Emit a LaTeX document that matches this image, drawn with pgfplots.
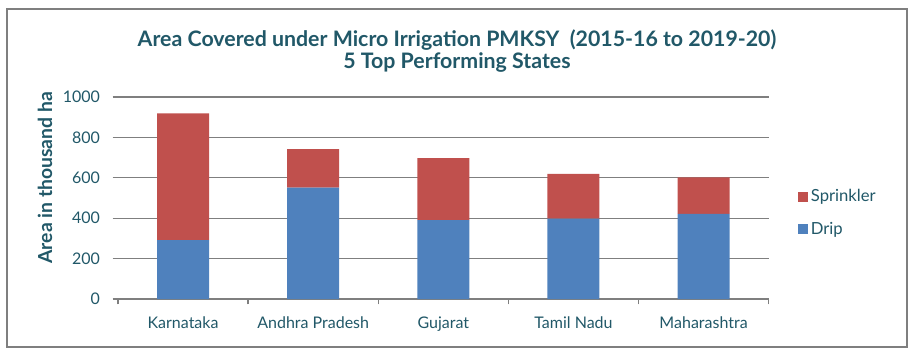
\documentclass[border=0pt]{standalone}
\usepackage{pgfplots}
\pgfplotsset{compat=1.18}
\usepackage{fontspec}
\setmainfont{Lato}
\definecolor{txt}{HTML}{215868}
\definecolor{dripc}{HTML}{4F81BD}
\definecolor{sprc}{HTML}{C0504D}
\definecolor{gridc}{HTML}{7F7F7F}
\begin{document}
\begin{tikzpicture}
\useasboundingbox (-88.5pt,-40.5pt) rectangle (595.5pt,224.25pt);
\draw[gridc, line width=1.1pt] (-83.25pt,-36pt) rectangle (591.75pt,217.5pt);
\begin{axis}[
  at={(0pt,0pt)}, anchor=south west,
  scale only axis, width=488pt, height=151.5pt,
  ybar stacked, bar width=39pt,
  xmin=-0.5, xmax=4.5, ymin=0, ymax=1000,
  xtick={0,1,2,3,4},
  xticklabels={Karnataka, Andhra Pradesh, Gujarat, Tamil Nadu, Maharashtra},
  minor xtick={-0.5,0.5,1.5,2.5,3.5,4.5},
  ytick={0,200,400,600,800,1000},
  axis x line*=bottom, axis y line*=left,
  y axis line style={draw=none},
  x axis line style={gridc, line width=1pt, -},
  tick align=outside,
  major x tick style={draw=none},
  minor x tick style={gridc, line width=1pt},
  minor tick length=4pt,
  major tick length=4pt,
  y tick style={gridc, line width=1pt},
  ymajorgrids, grid style={gridc, line width=1pt},
  ticklabel style={font=\fontsize{12}{14}\selectfont, text=txt},
  xticklabel style={yshift=-6pt},
  yticklabel style={xshift=-6pt},
  /pgf/number format/assume math mode=true,
  /pgf/number format/1000 sep={},
  legend style={at={(1.045,0.426)}, anchor=west, draw=none, fill=none,
    font=\fontsize{12.5}{14}\selectfont, text=txt, row sep=10pt,
    inner sep=0pt},
  legend cell align=left,
  reverse legend,
  legend image code/.code={\fill[#1] (0pt,-3.75pt) rectangle (7.5pt,3.75pt);},
  clip=false,
]
\addplot[fill=dripc, draw=none] coordinates {(0,292) (1,551) (2,391) (3,398) (4,421)};
\addlegendentry{Drip}
\addplot[fill=sprc, draw=none] coordinates {(0,627) (1,191) (2,307) (3,221) (4,181)};
\addlegendentry{Sprinkler}
\node[rotate=90, font=\bfseries\fontsize{14.5}{16}\selectfont, text=txt] at (rel axis cs:-0.112,0.6) {Area in thousand ha};
\end{axis}
\node[font=\bfseries\fontsize{16}{16.5}\selectfont, text=txt, align=center] at (254.25pt,186pt) {Area Covered under Micro Irrigation PMKSY\ \ (2015-16 to 2019-20)\\5 Top Performing States};
\end{tikzpicture}
\end{document}
